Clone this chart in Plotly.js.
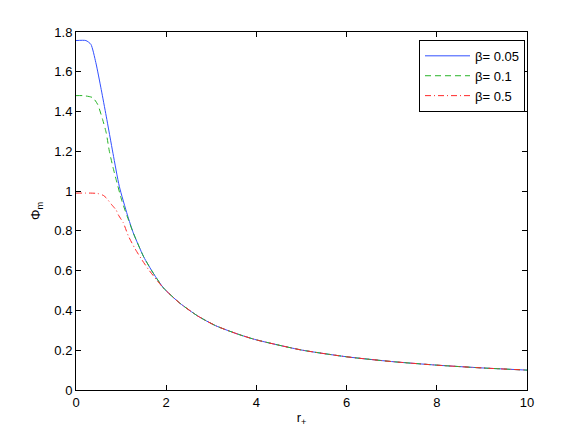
<!DOCTYPE html>
<html>
<head>
<meta charset="utf-8">
<script src="https://cdn.plot.ly/plotly-3.0.1.min.js"></script>
<style>
  html, body { margin: 0; padding: 0; background: #ffffff; }
  #chart { width: 582px; height: 438px; }
</style>
</head>
<body>
<div id="chart"></div>
<script>
// --- DATA ---
const BETA_LABELS = ['β= 0.05', 'β= 0.1', 'β= 0.5'];

const rBeta005 = [0, 0.22, 0.33, 0.44, 0.56, 0.67, 0.82, 0.96, 1.14, 1.27, 1.5, 1.72, 1.94, 2.3, 2.7, 3.1, 3.6, 4, 5, 6, 7, 8, 9, 10];
const phiBeta005 = [1.757, 1.757, 1.738, 1.646, 1.51, 1.377, 1.19, 1.024, 0.88, 0.79, 0.67, 0.585, 0.513, 0.437, 0.372, 0.323, 0.28, 0.252, 0.201, 0.167, 0.143, 0.125, 0.111, 0.1];

const rBeta01 = [0, 0.16, 0.37, 0.48, 0.59, 0.67, 0.74, 0.82, 0.89, 1.02, 1.14, 1.27, 1.5, 1.72, 1.94, 2.3, 2.7, 3.1, 3.6, 4, 5, 6, 7, 8, 9, 10];
const phiBeta01 = [1.48, 1.48, 1.47, 1.436, 1.36, 1.293, 1.2, 1.12, 1.058, 0.949, 0.87, 0.79, 0.67, 0.585, 0.513, 0.437, 0.372, 0.323, 0.28, 0.252, 0.201, 0.167, 0.143, 0.125, 0.111, 0.1];

const rBeta05 = [0, 0.33, 0.48, 0.61, 0.67, 0.79, 0.89, 0.94, 1.05, 1.16, 1.31, 1.46, 1.61, 1.79, 1.94, 2.3, 2.7, 3.1, 3.6, 4, 5, 6, 7, 8, 9, 10];
const phiBeta05 = [0.99, 0.99, 0.988, 0.978, 0.966, 0.932, 0.905, 0.88, 0.84, 0.775, 0.71, 0.655, 0.605, 0.553, 0.512, 0.437, 0.372, 0.323, 0.28, 0.252, 0.201, 0.167, 0.143, 0.125, 0.111, 0.1];

const X_TICKS = [0, 2, 4, 6, 8, 10];
const Y_TICKS = [0, 0.2, 0.4, 0.6, 0.8, 1, 1.2, 1.4, 1.6, 1.8];

// --- CHART ---
const FONT = 'Liberation Sans, Arial, Helvetica, sans-serif';

function makeTrace(x, y, name, color, dash) {
    return {
        x: x,
        y: y,
        mode: 'lines',
        name: name,
        line: { color: color, width: 1, dash: dash, shape: 'spline', smoothing: 0.6 }
    };
}

const traces = [
    makeTrace(rBeta005, phiBeta005, BETA_LABELS[0], 'rgb(50,80,255)', 'solid'),
    makeTrace(rBeta01, phiBeta01, BETA_LABELS[1], 'rgb(40,180,40)', '6px,4px'),
    makeTrace(rBeta05, phiBeta05, BETA_LABELS[2], 'rgb(255,40,40)', '6px,3px,1px,3px')
];

const axisCommon = {
    showline: true,
    linecolor: '#000',
    linewidth: 1,
    mirror: 'ticks',
    ticks: 'inside',
    ticklen: 5,
    tickcolor: '#000',
    showgrid: false,
    zeroline: false,
    tickfont: { family: FONT, size: 13, color: '#000' }
};

const layout = {
    width: 582,
    height: 438,
    margin: { l: 76, r: 55, t: 32, b: 48 },
    paper_bgcolor: '#ffffff',
    plot_bgcolor: '#ffffff',
    font: { family: FONT, size: 13, color: '#000' },
    xaxis: Object.assign({}, axisCommon, {
        range: [0, 10],
        tickvals: X_TICKS,
        ticktext: X_TICKS.map(String),
        title: { text: 'r<sub>+</sub>', font: { family: FONT, size: 13 }, standoff: 4 }
    }),
    yaxis: Object.assign({}, axisCommon, {
        range: [0, 1.8],
        tickvals: Y_TICKS,
        ticktext: Y_TICKS.map(String),
        title: { text: 'Φ<sub>m</sub>', font: { family: FONT, size: 13 }, standoff: 10 }
    }),
    showlegend: true,
    legend: {
        x: 0.9956,
        y: 0.978,
        xanchor: 'right',
        yanchor: 'top',
        bgcolor: '#ffffff',
        bordercolor: '#000',
        borderwidth: 1,
        itemwidth: 45,
        font: { family: FONT, size: 13, color: '#000' },
        tracegroupgap: 0
    }
};

Plotly.newPlot('chart', traces, layout, { staticPlot: true });
</script>
</body>
</html>
